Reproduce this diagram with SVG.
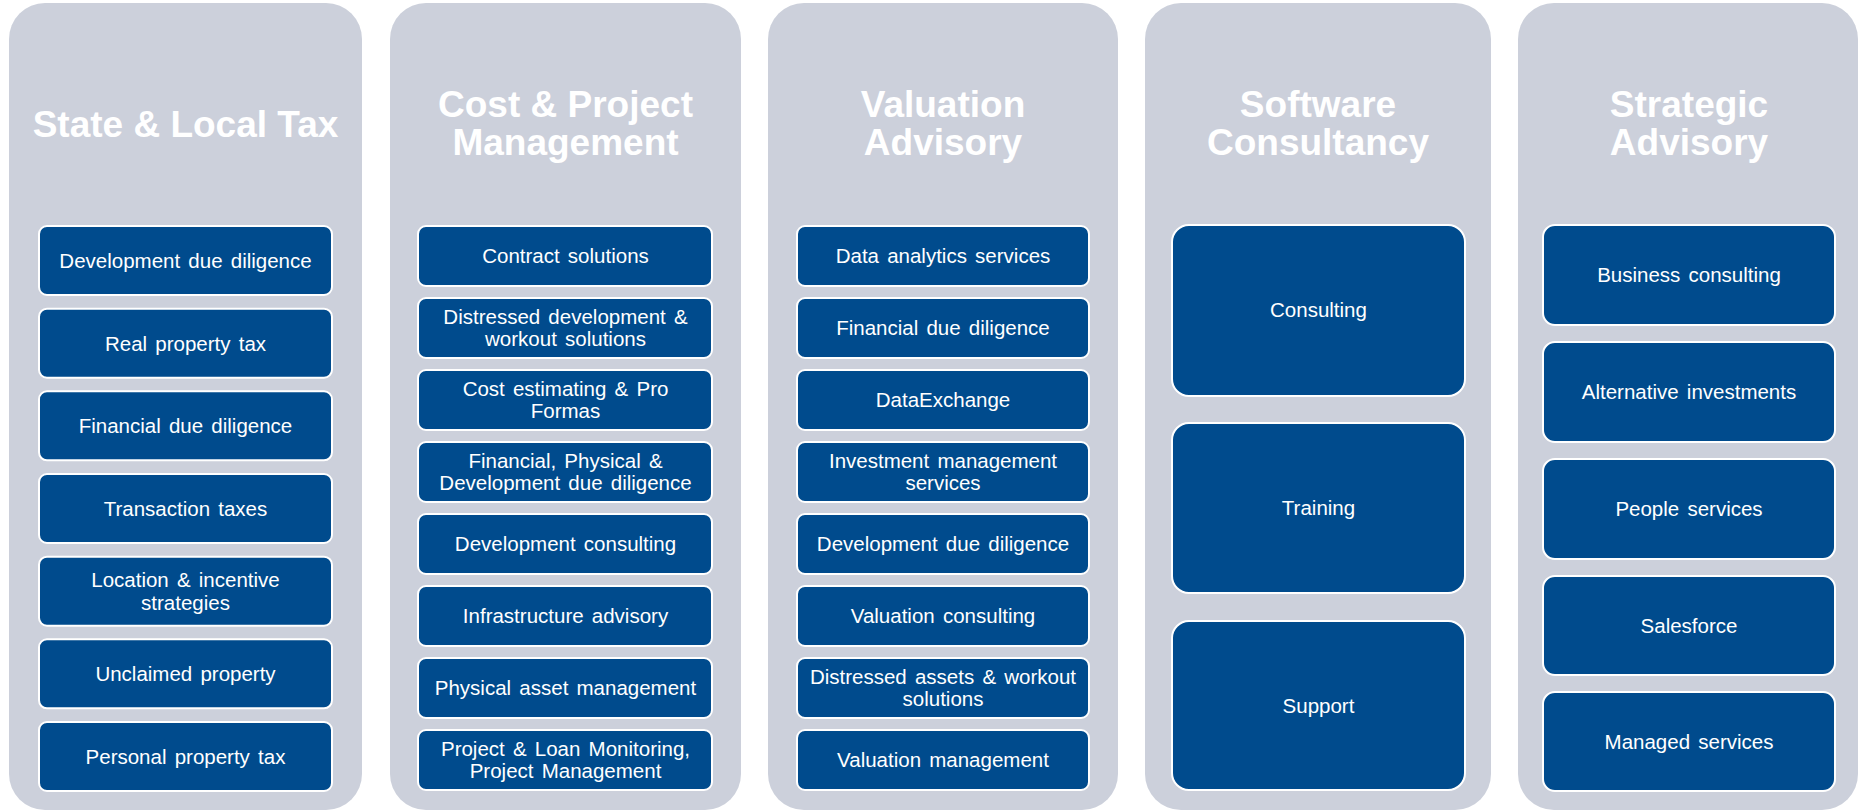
<svg xmlns="http://www.w3.org/2000/svg" width="1867" height="811" viewBox="0 0 1867 811">
<style>
.col{fill:#CCD0DB;}
.box{fill:#004B8D;stroke:#FFFFFF;stroke-width:2;}
.title{font-family:"Liberation Sans",Arial,sans-serif;font-weight:bold;font-size:37px;fill:#FFFFFF;text-anchor:middle;}
.lbl{font-family:"Liberation Sans",Arial,sans-serif;font-size:20.5px;fill:#FFFFFF;text-anchor:middle;word-spacing:2.5px;}
</style>
<rect width="1867" height="811" fill="#FFFFFF"/>
<g id="connectors"></g>

<g id="col-salt">
<rect class="col" x="9" y="3" width="353" height="807" rx="36"/>
<text class="title" x="185.5" y="137">State &amp; Local Tax</text>
<g id="salt-1"><rect class="box" x="39" y="226" width="293" height="69" rx="8"/><text class="lbl" x="185.5" y="268">Development due diligence</text></g>
<g id="salt-2"><rect class="box" x="39" y="308.7" width="293" height="69" rx="8"/><text class="lbl" x="185.5" y="350.7">Real property tax</text></g>
<g id="salt-3"><rect class="box" x="39" y="391.3" width="293" height="69" rx="8"/><text class="lbl" x="185.5" y="433.3">Financial due diligence</text></g>
<g id="salt-4"><rect class="box" x="39" y="474" width="293" height="69" rx="8"/><text class="lbl" x="185.5" y="516">Transaction taxes</text></g>
<g id="salt-5"><rect class="box" x="39" y="556.7" width="293" height="69" rx="8"/><text class="lbl" x="185.5" y="587">Location &amp; incentive</text><text class="lbl" x="185.5" y="609.5">strategies</text></g>
<g id="salt-6"><rect class="box" x="39" y="639.3" width="293" height="69" rx="8"/><text class="lbl" x="185.5" y="681.3">Unclaimed property</text></g>
<g id="salt-7"><rect class="box" x="39" y="722" width="293" height="69" rx="8"/><text class="lbl" x="185.5" y="764">Personal property tax</text></g>
</g>

<g id="col-cpm">
<rect class="col" x="390" y="3" width="351" height="807" rx="36"/>
<text class="title" x="565.5" y="117">Cost &amp; Project</text>
<text class="title" x="565.5" y="155">Management</text>
<g id="cpm-1"><rect class="box" x="418" y="226" width="294" height="60" rx="8"/><text class="lbl" x="565.5" y="263">Contract solutions</text></g>
<g id="cpm-2"><rect class="box" x="418" y="298" width="294" height="60" rx="8"/><text class="lbl" x="565.5" y="323.5">Distressed development &amp;</text><text class="lbl" x="565.5" y="346">workout solutions</text></g>
<g id="cpm-3"><rect class="box" x="418" y="370" width="294" height="60" rx="8"/><text class="lbl" x="565.5" y="395.5">Cost estimating &amp; Pro</text><text class="lbl" x="565.5" y="418">Formas</text></g>
<g id="cpm-4"><rect class="box" x="418" y="442" width="294" height="60" rx="8"/><text class="lbl" x="565.5" y="467.5">Financial, Physical &amp;</text><text class="lbl" x="565.5" y="490">Development due diligence</text></g>
<g id="cpm-5"><rect class="box" x="418" y="514" width="294" height="60" rx="8"/><text class="lbl" x="565.5" y="551">Development consulting</text></g>
<g id="cpm-6"><rect class="box" x="418" y="586" width="294" height="60" rx="8"/><text class="lbl" x="565.5" y="623">Infrastructure advisory</text></g>
<g id="cpm-7"><rect class="box" x="418" y="658" width="294" height="60" rx="8"/><text class="lbl" x="565.5" y="695">Physical asset management</text></g>
<g id="cpm-8"><rect class="box" x="418" y="730" width="294" height="60" rx="8"/><text class="lbl" x="565.5" y="755.5">Project &amp; Loan Monitoring,</text><text class="lbl" x="565.5" y="778">Project Management</text></g>
</g>

<g id="col-va">
<rect class="col" x="768" y="3" width="350" height="807" rx="36"/>
<text class="title" x="943" y="117">Valuation</text>
<text class="title" x="943" y="155">Advisory</text>
<g id="va-1"><rect class="box" x="797" y="226" width="292" height="60" rx="8"/><text class="lbl" x="943" y="263">Data analytics services</text></g>
<g id="va-2"><rect class="box" x="797" y="298" width="292" height="60" rx="8"/><text class="lbl" x="943" y="335">Financial due diligence</text></g>
<g id="va-3"><rect class="box" x="797" y="370" width="292" height="60" rx="8"/><text class="lbl" x="943" y="407">DataExchange</text></g>
<g id="va-4"><rect class="box" x="797" y="442" width="292" height="60" rx="8"/><text class="lbl" x="943" y="467.5">Investment management</text><text class="lbl" x="943" y="490">services</text></g>
<g id="va-5"><rect class="box" x="797" y="514" width="292" height="60" rx="8"/><text class="lbl" x="943" y="551">Development due diligence</text></g>
<g id="va-6"><rect class="box" x="797" y="586" width="292" height="60" rx="8"/><text class="lbl" x="943" y="623">Valuation consulting</text></g>
<g id="va-7"><rect class="box" x="797" y="658" width="292" height="60" rx="8"/><text class="lbl" x="943" y="683.5">Distressed assets &amp; workout</text><text class="lbl" x="943" y="706">solutions</text></g>
<g id="va-8"><rect class="box" x="797" y="730" width="292" height="60" rx="8"/><text class="lbl" x="943" y="767">Valuation management</text></g>
</g>

<g id="col-sc">
<rect class="col" x="1145" y="3" width="346" height="807" rx="36"/>
<text class="title" x="1318" y="117">Software</text>
<text class="title" x="1318" y="155">Consultancy</text>
<g id="sc-1"><rect class="box" x="1172" y="225" width="293" height="171" rx="17"/><text class="lbl" x="1318.5" y="317">Consulting</text></g>
<g id="sc-2"><rect class="box" x="1172" y="423" width="293" height="170" rx="17"/><text class="lbl" x="1318.5" y="515">Training</text></g>
<g id="sc-3"><rect class="box" x="1172" y="621" width="293" height="169" rx="17"/><text class="lbl" x="1318.5" y="713">Support</text></g>
</g>

<g id="col-sa">
<rect class="col" x="1518" y="3" width="340" height="807" rx="36"/>
<text class="title" x="1689" y="117">Strategic</text>
<text class="title" x="1689" y="155">Advisory</text>
<g id="sa-1"><rect class="box" x="1543" y="225" width="292" height="100" rx="12"/><text class="lbl" x="1689" y="282">Business consulting</text></g>
<g id="sa-2"><rect class="box" x="1543" y="342" width="292" height="100" rx="12"/><text class="lbl" x="1689" y="399">Alternative investments</text></g>
<g id="sa-3"><rect class="box" x="1543" y="459" width="292" height="100" rx="12"/><text class="lbl" x="1689" y="516">People services</text></g>
<g id="sa-4"><rect class="box" x="1543" y="576" width="292" height="99" rx="12"/><text class="lbl" x="1689" y="633">Salesforce</text></g>
<g id="sa-5"><rect class="box" x="1543" y="692" width="292" height="99" rx="12"/><text class="lbl" x="1689" y="749">Managed services</text></g>
</g>
</svg>
